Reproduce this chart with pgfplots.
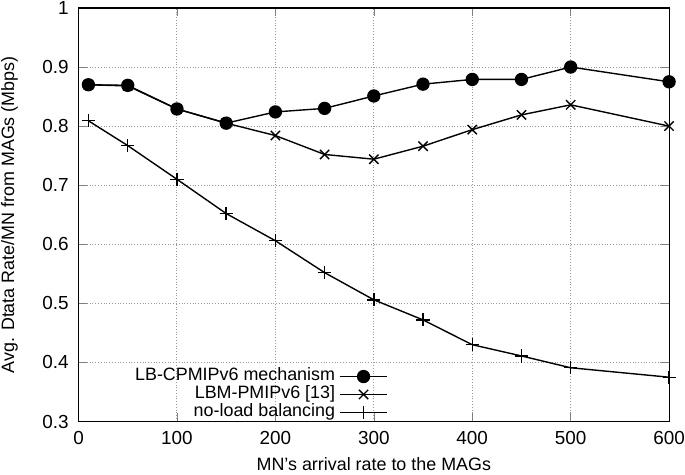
\documentclass[border=0pt]{standalone}
\usepackage{pgfplots}
\pgfplotsset{compat=1.18}
\usepackage{fontspec}
\setmainfont{Liberation Sans}
\begin{document}
\begin{tikzpicture}
\begin{axis}[
  scale only axis, width=297pt, height=208pt,
  xmin=0, xmax=600, ymin=0.3, ymax=1,
  xtick={0,100,200,300,400,500,600},
  ytick={0.3,0.4,0.5,0.6,0.7,0.8,0.9,1},
  yticklabels={0.3,0.4,0.5,0.6,0.7,0.8,0.9,1},
  tick align=inside,
  grid=major, major grid style={densely dotted, gray!80, line width=0.5pt},
  axis line style={line width=0.6pt},
  /pgf/number format/assume math mode=true,
  font=\fontsize{9}{11}\selectfont,
  ticklabel style={font=\fontsize{9.5}{11}\selectfont},
  yticklabel shift=1.5pt, xticklabel shift=1.5pt,
  xlabel={MN’s arrival rate to the MAGs},
  ylabel={Avg. Dtata Rate/MN from MAGs (Mbps)},
  every axis x label/.style={at={(axis description cs:0.5,0)}, anchor=center, yshift=-21.5pt},
  every axis y label/.style={at={(axis description cs:-0.117,0.5)}, rotate=90, anchor=center},
  legend plot pos=right,
  legend cell align=right,
  legend style={at={(axis cs:321,0.293)}, anchor=south east, draw=none, fill=none,
    row sep=0pt, font=\fontsize{9}{11}\selectfont,
    nodes={inner ysep=0pt, text height=6.7pt, text depth=2.3pt}},
  legend image code/.code={\draw[mark repeat=2,mark phase=2] plot coordinates {(0pt,0pt) (12pt,0pt) (24pt,0pt)};},
  every axis plot/.append style={black, line width=0.7pt},
]
\addplot[mark=*, mark size=3pt, mark options={solid, fill=black}] coordinates {
(10,0.870) (50,0.869) (100,0.829) (150,0.805) (200,0.824) (250,0.830) (300,0.851)
(350,0.871) (400,0.879) (450,0.879) (500,0.900) (600,0.875)};
\addlegendentry{LB-CPMIPv6 mechanism}
\addplot[mark=x, mark size=3.3pt] coordinates {
(10,0.870) (50,0.868) (100,0.829) (150,0.805) (200,0.784) (250,0.752) (300,0.744)
(350,0.766) (400,0.794) (450,0.819) (500,0.836) (600,0.800)};
\addlegendentry{LBM-PMIPv6 [13]}
\addplot[mark=+, mark size=3.3pt] coordinates {
(10,0.809) (50,0.767) (100,0.710) (150,0.652) (200,0.606) (250,0.552) (300,0.506)
(350,0.472) (400,0.430) (450,0.411) (500,0.391) (600,0.375)};
\addlegendentry{no-load balancing}
\end{axis}
\pgfresetboundingbox
\useasboundingbox ([shift={(-39.5pt,-26.5pt)}]current axis.south west) rectangle ([shift={(8pt,4pt)}]current axis.north east);
\end{tikzpicture}
\end{document}
